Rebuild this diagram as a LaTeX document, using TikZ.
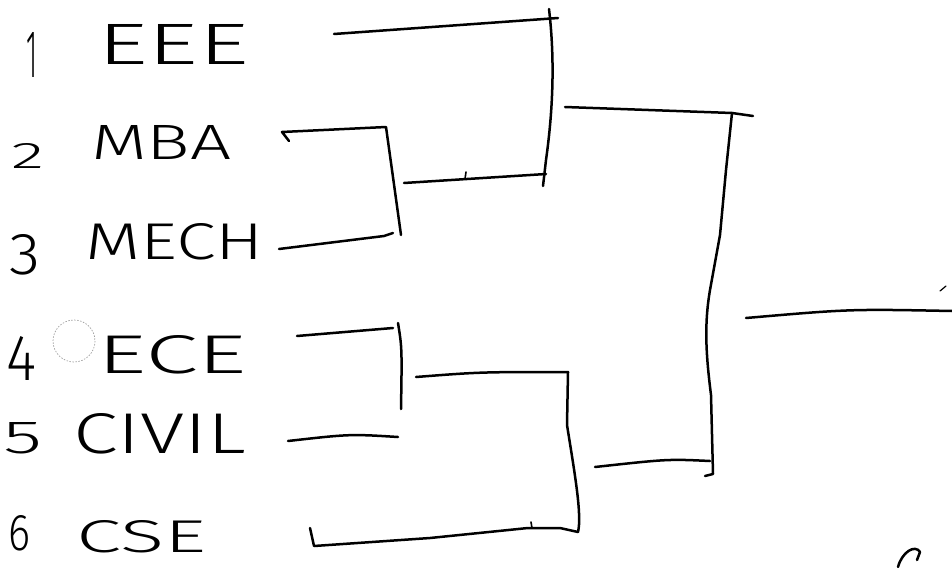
\documentclass[tikz,border=0pt]{standalone}
\usepackage{graphicx}
\usepackage{fontspec}
\setmainfont{Fira Sans Light}
\newcommand\fitlbl[3]{\resizebox{#1pt}{#2pt}{#3}}
\begin{document}
\begin{tikzpicture}[x=1pt,y=-1pt,
  ink/.style={line width=2.5pt,line cap=round,line join=round,black},
  lbl/.style={anchor=south west,inner sep=0pt,outer sep=0pt}]
\useasboundingbox (0,0) rectangle (952,567);
% labels
\node[lbl] (n1) at (26,78) {\fitlbl{11}{45}{1}};
\node[lbl] (t1) at (97,65) {\fitlbl{152}{40}{EEE}};
\node[lbl] (n2) at (12,168) {\fitlbl{33}{25}{2}};
\node[lbl] (t2) at (91,159) {\fitlbl{140}{34}{MBA}};
\node[lbl] (n3) at (9,275) {\fitlbl{31}{40}{3}};
\node[lbl] (t3) at (85,260) {\fitlbl{179}{36}{MECH}};
\node[lbl] (n4) at (6,380) {\fitlbl{30}{44}{4}};
\node[lbl] (t4) at (97,374) {\fitlbl{150}{38}{ECE}};
\node[lbl] (n5) at (3,454) {\fitlbl{39}{31}{5}};
\node[lbl] (t5) at (73,454) {\fitlbl{173}{40}{CIVIL}};
\node[lbl] (n6) at (9,551) {\fitlbl{22}{35}{6}};
\node[lbl] (t6) at (76,553) {\fitlbl{130}{32}{CSE}};
% faint dotted circle
\draw[gray!75,line width=0.7pt,dash pattern=on 1.5pt off 1.5pt] (74,341) circle (21);
% coordinates
\coordinate (a1) at (334,34); \coordinate (a2) at (558,18);
\coordinate (v1t) at (549,9); \coordinate (v1a) at (555,60); \coordinate (v1b) at (553,110);
\coordinate (v1c) at (546,160); \coordinate (v1d) at (543,186);
\coordinate (b1) at (282,132); \coordinate (b0) at (289,141); \coordinate (b2) at (386,127);
\coordinate (v2a) at (392,170); \coordinate (v2b) at (401,235);
\coordinate (c1) at (279,249); \coordinate (c2) at (384,236); \coordinate (c3) at (393,233);
\coordinate (d1) at (404,183); \coordinate (d2) at (546,174);
\coordinate (e1) at (565,107); \coordinate (e2) at (732,113); \coordinate (e3) at (753,116);
\coordinate (r1) at (726,170); \coordinate (r2) at (720,235); \coordinate (r3) at (710,290);
\coordinate (r4) at (704,325); \coordinate (r5) at (706,355); \coordinate (r6) at (711,395);
\coordinate (r7) at (713,474); \coordinate (r8) at (705,476);
\coordinate (f1) at (746,318); \coordinate (f2) at (850,309); \coordinate (f3) at (952,311);
\coordinate (g1) at (297,336); \coordinate (g2) at (393,328);
\coordinate (h1) at (398,323); \coordinate (h2) at (402,348); \coordinate (h3) at (401,409);
\coordinate (i1) at (288,441); \coordinate (i2) at (350,434); \coordinate (i3) at (398,437);
\coordinate (j1) at (416,377); \coordinate (j2) at (480,372); \coordinate (j3) at (568,372);
\coordinate (k1) at (567,425); \coordinate (k2) at (575,475); \coordinate (k3) at (582,515); \coordinate (k4) at (578,532);
\coordinate (l0) at (310,528); \coordinate (l1) at (314,546); \coordinate (l2) at (430,538);
\coordinate (l3) at (528,528); \coordinate (l4) at (560,528);
\coordinate (m1) at (595,467); \coordinate (m2) at (668,459); \coordinate (m3) at (710,461);
% bracket lines
\draw[ink] (a1) -- (a2);
\draw[ink] (v1t) .. controls (v1a) and (v1b) .. (v1c) -- (v1d);
\draw[ink] (b0) -- (b1) -- (b2) -- (v2a) -- (v2b);
\draw[ink] (c1) -- (c2) -- (c3);
\draw[ink] (d1) -- (d2);
\draw[ink] (e1) -- (e2) -- (e3);
\draw[ink] (e2) -- (r1) -- (r2) -- (r3) .. controls (r4) and (r5) .. (r6) -- (r7) -- (r8);
\draw[ink] (f1) .. controls (f2) .. (f3);
\draw[ink] (g1) -- (g2);
\draw[ink] (h1) .. controls (h2) .. (h3);
\draw[ink] (i1) .. controls (i2) .. (i3);
\draw[ink] (j1) .. controls (j2) .. (j3);
\draw[ink] (j3) -- (k1) .. controls (k2) and (k3) .. (k4);
\draw[ink] (l0) -- (l1) -- (l2) -- (l3) -- (l4) -- (k4);
\draw[ink] (m1) .. controls (m2) .. (m3);
% small marks
\draw[ink,line width=1.6pt] (465,179) -- (466,172);
\draw[ink,line width=1.6pt] (531,522) -- (532,528);
\draw[ink,line width=1.2pt] (940,291) -- (946,286);
\draw[ink] (898,567) .. controls (902,552) and (915,544) .. (920,552) -- (917,560);
\end{tikzpicture}
\end{document}
